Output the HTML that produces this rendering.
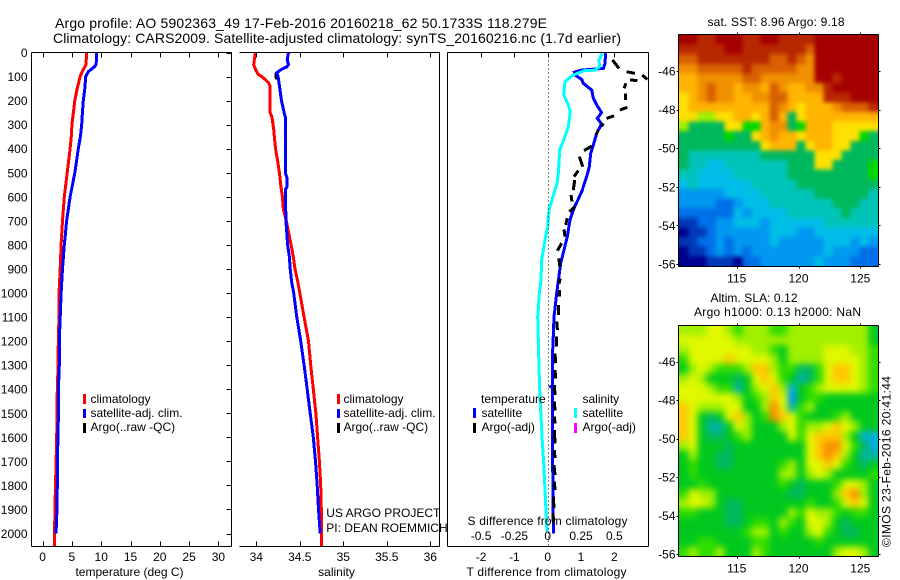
<!DOCTYPE html>
<html lang="en">
<head>
<meta charset="utf-8">
<title>Argo profile 5902363_49</title>
<style>
html,body{margin:0;padding:0;background:#fff;width:900px;height:580px;overflow:hidden}
svg{display:block}
text{font-family:"Liberation Sans",sans-serif;font-size:12px;fill:#000}
.t14{font-size:14px}
.ax{stroke:#000;stroke-width:1;shape-rendering:crispEdges;fill:none}
.ln{fill:none;stroke-width:3;shape-rendering:crispEdges;stroke-linejoin:miter}
</style>
</head>
<body>
<svg id="fig" xmlns="http://www.w3.org/2000/svg" width="900" height="580" viewBox="0 0 900 580">
  <defs>
    <filter id="sstSmooth" filterUnits="userSpaceOnUse" x="660" y="20" width="235" height="260" color-interpolation-filters="sRGB">
      <feGaussianBlur in="SourceGraphic" stdDeviation="2.2"/>
      <feComponentTransfer><feFuncA type="linear" slope="60"/></feComponentTransfer>
    </filter>
    <filter id="slaSmooth" filterUnits="userSpaceOnUse" x="660" y="310" width="235" height="260" color-interpolation-filters="sRGB">
      <feGaussianBlur in="SourceGraphic" stdDeviation="3.4"/>
      <feComponentTransfer><feFuncA type="linear" slope="60"/></feComponentTransfer>
    </filter>
    <clipPath id="sstClip"><rect x="679" y="35" width="199" height="231"/></clipPath>
    <clipPath id="slaClip"><rect x="679" y="326" width="199" height="230"/></clipPath>
  </defs>
  <rect width="900" height="580" fill="#fff"/>
  <text class="t14" x="55" y="28" textLength="492" lengthAdjust="spacing">Argo profile: AO 5902363_49 17-Feb-2016 20160218_62 50.1733S 118.279E</text>
  <text class="t14" x="53" y="43" textLength="568" lengthAdjust="spacing">Climatology: CARS2009. Satellite-adjusted climatology: synTS_20160216.nc (1.7d earlier)</text>

  <g clip-path="url(#sstClip)"><g id="sstCells" filter="url(#sstSmooth)"></g></g>
  <g clip-path="url(#slaClip)"><g id="slaCells" filter="url(#slaSmooth)"></g></g>
  <g id="plots"></g>
  <g id="axes"></g>

  <text x="129.5" y="576" text-anchor="middle">temperature (deg C)</text>
  <text x="336.5" y="576" text-anchor="middle">salinity</text>
  <text x="466.5" y="576" textLength="160">T difference from climatology</text>
  <text x="467.5" y="525" textLength="160">S difference from climatology</text>

  <g>
    <rect x="83" y="394" width="3" height="10" fill="#f00"/>
    <text x="90.5" y="403">climatology</text>
    <rect x="83" y="409" width="3" height="9" fill="#00f"/>
    <text x="90.5" y="417">satellite-adj. clim.</text>
    <rect x="83" y="423" width="3" height="10" fill="#000"/>
    <text x="90.5" y="431">Argo(..raw -QC)</text>
  </g>
  <g>
    <rect x="337" y="394" width="3" height="10" fill="#f00"/>
    <text x="343.5" y="403">climatology</text>
    <rect x="337" y="409" width="3" height="9" fill="#00f"/>
    <text x="343.5" y="417">satellite-adj. clim.</text>
    <rect x="337" y="423" width="3" height="10" fill="#000"/>
    <text x="343.5" y="431">Argo(..raw -QC)</text>
  </g>
  <g>
    <text x="481" y="403">temperature</text>
    <rect x="473" y="408" width="3" height="10" fill="#00f"/>
    <text x="481.5" y="417">satellite</text>
    <rect x="473" y="423" width="3" height="10" fill="#000"/>
    <text x="481.5" y="431">Argo(-adj)</text>
    <text x="582.5" y="403">salinity</text>
    <rect x="574" y="408" width="3" height="10" fill="#0ff"/>
    <text x="582.5" y="417">satellite</text>
    <rect x="574" y="423" width="3" height="10" fill="#f0f"/>
    <text x="582.5" y="431">Argo(-adj)</text>
  </g>
  <text x="326.3" y="517">US ARGO PROJECT</text>
  <text x="326.3" y="532">PI: DEAN ROEMMICH</text>

  <text x="707.5" y="26" textLength="137">sat. SST: 8.96 Argo: 9.18</text>
  <text x="710.5" y="302" textLength="87">Altim. SLA: 0.12</text>
  <text x="694" y="316" textLength="167">Argo h1000: 0.13 h2000: NaN</text>
  <text transform="translate(890.5 547) rotate(-90)" textLength="171">©IMOS 23-Feb-2016 20:41:44</text>
</svg>

<script>
/* ---------- profile data (depth in m) ---------- */
const climTempDepth = [0,50,73,100,150,200,250,300,350,400,500,600,700,800,900,1000,1100,1200,1300,1400,1500,1600,1700,1800,1900,2000,2054];
const climTemp = [7.5,7.4,6.9,6.4,5.9,5.5,5.25,5.0,4.9,4.7,4.2,3.7,3.4,3.15,3.0,2.8,2.8,2.68,2.65,2.5,2.45,2.4,2.3,2.2,2.1,2.05,2.0];
const satTempDepth = [0,50,60,80,100,150,200,250,300,350,400,450,500,550,600,650,700,750,800,850,900,1000,1100,1200,1300,1400,1500,1600,1700,1800,1900,1950,2000];
const satTemp = [9.2,9.15,8.8,7.8,7.35,7.2,6.95,6.8,6.67,6.45,6.1,5.8,5.5,5.1,4.7,4.4,4.1,3.9,3.7,3.55,3.4,3.15,3.0,2.85,2.85,2.7,2.7,2.63,2.5,2.5,2.45,2.35,2.3];
const climSalDepth = [0,50,70,90,105,125,140,250,270,320,380,420,450,500,550,600,650,700,800,850,900,950,1000,1100,1200,1300,1400,1500,1600,1700,1800,1900,2054];
const climSal = [33.99,33.97,33.99,34.02,34.08,34.14,34.16,34.16,34.18,34.2,34.215,34.23,34.245,34.265,34.28,34.3,34.31,34.345,34.4,34.425,34.445,34.475,34.5,34.55,34.6,34.625,34.655,34.685,34.705,34.725,34.74,34.747,34.75];
const satSalDepth = [0,30,50,60,70,85,100,150,200,250,270,500,520,560,570,700,750,800,850,900,950,1000,1100,1200,1300,1400,1500,1600,1700,1800,1900,2000];
const satSal = [34.37,34.355,34.37,34.35,34.29,34.235,34.25,34.27,34.29,34.32,34.335,34.335,34.35,34.35,34.335,34.34,34.35,34.36,34.38,34.39,34.405,34.43,34.465,34.51,34.55,34.585,34.62,34.655,34.68,34.7,34.715,34.735];
const argoSalDepth = [85,100,112];
const argoSal = [34.225,34.228,34.232];

const satTDiffDepth = [3,45,66,73,82,94,112,128,156,190,218,250,274,297,336,385,419,475,516,579,648,696,766,821,876,946,1001,1064,1098,1168,1237,1385,1389,1395,1431,1583,1722,1860,2000];
const satTDiff = [1.74,1.72,1.67,1.02,.8,.82,1.02,1.07,1.32,1.37,1.47,1.62,1.49,1.62,1.47,1.37,1.29,1.25,1.17,1.02,.79,.67,.59,.49,.39,.32,.27,.22,.19,.17,.15,.14,.09,.14,.14,.14,.15,.16,.17];
const satSDiffDepth = [3,31,59,73,76,94,121,177,218,246,308,364,405,502,544,599,655,724,780,863,946,1015,1064,1098,1209,1306,1403,1514,1625,1708,1819,1916,1992];
const satSDiff = [.41,.385,.39,.355,.27,.19,.13,.12,.155,.17,.155,.12,.09,.08,.07,.04,.01,0,-.02,-.045,-.05,-.065,-.07,-.075,-.07,-.065,-.06,-.05,-.04,-.03,-.02,-.012,-.005];
/* null entries separate the dashes of the Argo difference trace */
const argoTDiffDepth = [31,45,66,null,80,87,null,94,112,null,114,117,null,128,149,null,170,197,null,228,239,null,263,274,null,295,306,null,322,343,null,389,408,null,433,475,null,491,516,null,530,572,null,592,620,null,641,662,null,689,717,null,735,766,null,793,824,null,856,891,null,939,960,null,988,1015,null,1050,1091,null,1119,1154,null,1181,1223,null,1251,1292,null,1320,1355,null,1382,1424,null,1452,1489,null,1514,1542,null,1570,1625,null,1653,1687,null,1715,1757,null,1784,1819,null,1847,1895,null,1916,1951];
const argoTDiff = [1.95,2.02,2.14,null,2.37,2.62,null,2.84,2.99,null,2.47,2.69,null,2.35,2.29,null,2.33,2.33,null,2.39,2.17,null,1.99,1.77,null,1.67,1.62,null,1.52,1.45,null,1.32,1.09,null,.95,1.05,null,.92,.79,null,.81,.77,null,.7,.73,null,.82,.65,null,.59,.54,null,.49,.52,null,.42,.29,null,.33,.37,null,.37,.35,null,.35,.35,null,.32,.32,null,.27,.29,null,.27,.27,null,.22,.24,null,.22,.24,null,.2,.22,null,.2,.22,null,.2,.22,null,.2,.22,null,.2,.22,null,.19,.22,null,.2,.22,null,.17,.19,null,.16,.18];

/* ---------- tick labels ---------- */
const depthTicks = [0,100,200,300,400,500,600,700,800,900,1000,1100,1200,1300,1400,1500,1600,1700,1800,1900,2000];
const tempTicks = [0,5,10,15,20,25,30];
const salTicks = [34,34.5,35,35.5,36];
const salTickLabels = ["34","34.5","35","35.5","36"];
const tDiffTicks = [-2,-1,0,1,2];
const sDiffTicks = [-0.5,-0.25,0,0.25,0.5];
const sDiffTickLabels = ["-0.5","-0.25","0","0.25","0.5"];
const lonTicks = [115,120,125];
const latTicks = [-46,-48,-50,-52,-54,-56];

/* ---------- heatmap levels, north to south, west to east ---------- */
const sstLevels = [
[14,14,13,13,14,14,14,13,13,14,14,13,13,13,13,14,14,14,14,14,14,14],
[13,13,13,13,13,14,14,13,13,13,13,13,13,13,12,14,14,14,14,14,14,14],
[12,12,13,13,13,13,13,13,13,13,12,12,13,12,11,14,14,14,14,14,14,14],
[11,11,12,12,12,12,12,13,12,12,12,12,12,11,11,14,14,14,14,14,14,14],
[10,10,11,11,11,11,11,12,12,11,11,11,11,11,11,14,14,13,14,14,14,14],
[10,10,11,12,11,11,10,11,11,10,12,11,10,10,11,11,13,14,14,14,14,14],
[9,10,11,12,11,11,10,10,11,11,12,12,10,10,10,10,13,13,13,14,14,14],
[9,10,10,10,10,10,10,10,10,10,12,11,10,9,10,10,10,11,12,12,12,13],
[9,9,8,8,9,9,10,10,9,10,12,10,6,9,10,10,10,10,10,10,10,10],
[8,6,6,6,6,9,9,7,7,10,11,11,6,7,10,10,10,9,9,9,9,9],
[6,6,6,6,6,7,6,6,9,10,11,10,10,9,10,10,10,9,9,9,7,6],
[6,6,6,6,6,6,6,6,6,9,10,10,10,6,9,10,10,9,9,6,6,6],
[6,5,5,5,5,5,5,5,5,6,6,6,6,6,6,9,9,9,6,6,6,6],
[6,5,5,4,4,5,5,5,5,5,5,5,6,6,6,9,9,6,6,6,6,7],
[5,5,4,4,4,4,5,5,5,5,5,5,6,6,6,6,6,6,6,6,6,7],
[4,5,4,4,4,4,4,4,5,5,5,5,5,6,6,6,6,6,6,6,6,6],
[3,3,3,3,3,4,4,4,4,5,5,5,5,5,5,6,6,6,6,6,6,5],
[3,3,3,3,2,2,3,4,4,4,5,5,5,5,5,5,5,6,6,6,5,5],
[2,2,2,2,2,2,4,3,4,4,4,4,5,5,5,5,5,5,6,5,5,5],
[1,1,2,2,3,3,4,4,4,3,4,4,4,4,4,4,5,5,5,5,5,5],
[0,1,1,2,3,3,3,3,3,3,4,4,4,3,3,4,4,4,4,4,4,4],
[1,1,2,2,3,2,3,3,3,3,4,3,3,3,3,3,4,4,4,3,4,3],
[0,1,1,2,3,2,3,2,3,3,3,3,3,3,3,3,4,3,3,3,2,2],
[0,0,0,1,1,1,0,2,2,3,3,3,3,3,3,4,3,3,3,2,2,2]
];
const slaLevels = [
[8,8,8,9,9,8,7,8,8,8,7,7,8,8,8,8,8,8,8,8,8,6],
[9,9,9,9,9,9,8,8,8,8,8,8,8,8,8,8,8,8,8,8,8,6],
[8,9,9,9,9,9,9,9,8,8,7,6,8,8,8,8,9,9,9,8,8,7],
[7,9,9,9,9,10,9,9,9,9,8,6,8,8,8,8,9,9,9,9,8,7],
[6,8,9,8,7,7,7,8,10,10,8,7,7,5,5,7,9,10,10,9,8,7],
[8,9,8,6,6,6,5,6,9,10,9,7,6,4,5,7,9,10,10,9,8,7],
[9,9,9,8,7,7,4,6,8,9,10,8,3,6,7,8,9,9,9,9,8,7],
[9,9,9,9,9,9,8,6,7,8,10,9,2,6,7,7,6,6,6,6,6,6],
[10,9,8,8,8,9,9,6,6,8,11,9,4,7,8,6,6,6,6,6,6,6],
[10,9,6,5,6,9,10,8,6,7,11,10,9,7,6,6,6,7,8,6,6,6],
[10,9,6,4,4,6,9,8,6,6,6,8,9,7,8,8,9,10,9,8,6,6],
[10,9,6,5,5,6,7,8,6,6,6,6,9,7,9,10,10,10,8,6,3,3],
[8,9,6,6,6,5,6,6,6,6,6,6,6,6,9,10,11,11,9,7,5,3],
[6,8,6,6,5,5,6,6,6,6,6,6,6,6,9,10,11,10,8,6,4,4],
[6,7,6,6,5,5,6,6,6,6,6,7,8,6,9,9,10,9,7,6,5,6],
[6,7,6,6,6,6,6,6,6,6,6,8,8,6,8,9,8,6,6,6,6,7],
[6,6,7,6,6,6,6,6,6,6,6,7,6,5,6,6,6,7,9,9,8,6],
[7,9,8,8,6,6,6,6,6,6,6,6,5,5,6,6,6,8,10,11,8,6],
[8,9,9,8,6,5,5,6,6,6,6,6,6,6,7,6,6,7,9,10,9,6],
[7,7,6,6,6,5,5,6,6,6,6,6,8,7,9,8,8,7,6,7,7,6],
[6,6,6,6,6,5,5,6,7,7,6,8,7,6,9,9,8,6,5,6,6,6],
[6,6,6,6,6,6,6,7,8,8,6,7,6,6,8,9,7,6,5,5,6,6],
[6,6,7,7,6,6,6,6,7,7,6,6,6,6,6,7,6,6,6,6,6,6],
[7,8,7,7,8,6,6,6,8,7,6,6,6,6,6,6,6,8,9,9,8,6]
];

/* ---------- colour scales (style, not data) ---------- */
const sstPalette = ["#000090","#0038b8","#0070e8","#0098f0","#00bce8","#00c4b8","#00b85c","#00d800","#a0f000","#ffe000","#ffb400","#f09000","#d86000","#b82800","#a50000"];
const slaPalette = ["#000090","#0038b8","#0090ff","#00b0d8","#00b4a8","#00b860","#00c81e","#30dc00","#a0f000","#e0f800","#ffc800","#f89000","#d06000"];

/* ---------- axis functions ---------- */
const yDepth = d => 52.5 + 0.2405 * d;
const xTemp = t => 42.6 + 5.86 * t;
const xSal = s => 256.3 + 87 * (s - 34);
const xTDiff = t => 547.7 + 33.3 * t;
const xSDiff = s => 547.7 + 133.2 * s;
const mapX = lon => 736.7 + (lon - 115) * 12.36;
const sstLatY = lat => 71 + (-46 - lat) * 19.3;
const slaLatY = lat => 361.7 + (-46 - lat) * 19.25;
const LON_W = 110.36, LON_E = 126.4, LAT_N_SST = -44.13, LAT_S_SST = -56.1, LAT_N_SLA = -44.13, LAT_S_SLA = -56.1;

const SVGNS = "http://www.w3.org/2000/svg";
const axesLayer = document.getElementById("axes");
const plotLayer = document.getElementById("plots");

function makeLine(parent, x1, y1, x2, y2) {
  const el = document.createElementNS(SVGNS, "line");
  el.setAttribute("x1", x1); el.setAttribute("y1", y1);
  el.setAttribute("x2", x2); el.setAttribute("y2", y2);
  el.setAttribute("class", "ax");
  parent.appendChild(el);
  return el;
}
function makeText(parent, x, y, str, anchor) {
  const el = document.createElementNS(SVGNS, "text");
  el.setAttribute("x", x); el.setAttribute("y", y);
  if (anchor) el.setAttribute("text-anchor", anchor);
  el.textContent = str;
  parent.appendChild(el);
  return el;
}
function makeTrace(xs, ys, xFn, color, width) {
  /* one polyline per run of non-null values */
  const made = [];
  let pts = [];
  const flush = () => {
    if (pts.length > 1) {
      const el = document.createElementNS(SVGNS, "polyline");
      el.setAttribute("points", pts.join(" "));
      el.setAttribute("class", "ln");
      el.setAttribute("stroke", color);
      el.setAttribute("stroke-width", width);
      plotLayer.appendChild(el);
      made.push(el);
    }
    pts = [];
  };
  xs.forEach((v, i) => {
    if (v === null || ys[i] === null) { flush(); return; }
    pts.push(xFn(v).toFixed(1) + "," + yDepth(ys[i]).toFixed(1));
  });
  flush();
  return made;
}

/* ---------- panel frames ---------- */
const TOP = 52.5, BOT = 546.5;
const p1L = 31.5, p1R = 231.5, p2L = 239.5, p2R = 439.5, p3L = 447.5, p3R = 648.5;

[[p1L,TOP,p1R,TOP,"temperature-top-axis"],[p1L,BOT,p1R,BOT,"temperature-bottom-axis"],[p1L,TOP,p1L,BOT,"depth-axis-line"],[p1R,TOP,p1R,BOT,"temperature-right-axis"],
 [p2L,TOP,p2R,TOP,"salinity-top-axis"],[p2L,BOT,p2R,BOT,"salinity-bottom-axis"],[p2R,TOP,p2R,BOT,"salinity-right-axis"],
 [p3L,TOP,p3R,TOP,"difference-top-axis"],[p3L,BOT,p3R,BOT,"difference-bottom-axis"],[p3L,TOP,p3L,BOT,"difference-left-axis"],[p3R,TOP,p3R,BOT,"difference-right-axis"]
].forEach(f => {
  const el = makeLine(axesLayer, f[0], f[1], f[2], f[3]);
  
  
});

/* depth ticks */
depthTicks.forEach(d => {
  const y = Math.round(yDepth(d)) + 0.5;
  const tick = makeLine(axesLayer, p1R - 5, y, p1R, y);
  
  
  const lab = makeText(axesLayer, 27.5, yDepth(d) + 4.5, String(d), "end");
  
  
});

/* temperature ticks */
tempTicks.forEach(t => {
  const x = Math.round(xTemp(t)) + 0.5;
  const a = makeLine(axesLayer, x, TOP, x, TOP + 5);
  
  
  const b = makeLine(axesLayer, x, BOT - 5, x, BOT);
  
  
  const lab = makeText(axesLayer, xTemp(t), 561, String(t), "middle");
  
  
});

/* salinity ticks */
salTicks.forEach((s, i) => {
  const x = Math.round(xSal(s)) + 0.5;
  const a = makeLine(axesLayer, x, TOP, x, TOP + 5);
  
  
  const b = makeLine(axesLayer, x, BOT - 5, x, BOT);
  
  
  const lab = makeText(axesLayer, xSal(s), 561, salTickLabels[i], "middle");
  
  
});

/* difference ticks */
tDiffTicks.forEach(t => {
  const x = Math.round(xTDiff(t)) + 0.5;
  const a = makeLine(axesLayer, x, TOP, x, TOP + 5);
  
  
  const lab = makeText(axesLayer, xTDiff(t), 561, String(t), "middle");
  
  
});
sDiffTicks.forEach((s, i) => {
  const lab = makeText(axesLayer, xSDiff(s), 540, sDiffTickLabels[i], "middle");
  
  
});

/* zero line */
const zero = makeLine(axesLayer, Math.round(xTDiff(0)) + 0.5, TOP, Math.round(xTDiff(0)) + 0.5, BOT);
zero.setAttribute("stroke-dasharray", "1 3");



/* ---------- profile traces ---------- */
makeTrace(climTemp, climTempDepth, xTemp, "#f00", 3).forEach(el => {
  
  
});
makeTrace(satTemp, satTempDepth, xTemp, "#00f", 3).forEach(el => {
  
  
});
makeTrace(climSal, climSalDepth, xSal, "#f00", 3).forEach(el => {
  
  
});
makeTrace(argoSal, argoSalDepth, xSal, "#000", 1).forEach(el => {
  
  
});
makeTrace(satSal, satSalDepth, xSal, "#00f", 3).forEach(el => {
  
  
});
makeTrace(satTDiff, satTDiffDepth, xTDiff, "#00f", 3).forEach(el => {
  
  
});
makeTrace(satSDiff, satSDiffDepth, xSDiff, "#0ff", 3).forEach(el => {
  
  
});
makeTrace(argoTDiff, argoTDiffDepth, xTDiff, "#000", 3).forEach(el => {
  
  
});

/* ---------- heatmaps ---------- */
function drawMap(group, levels, palette, yLat, latN, latS, cellName) {
  const rows = levels.length, cols = levels[0].length;
  const dLon = (LON_E - LON_W) / cols, dLat = (latN - latS) / rows;
  levels.forEach((row, r) => {
    row.forEach((v, c) => {
      const x0 = mapX(LON_W + c * dLon), x1 = mapX(LON_W + (c + 1) * dLon);
      const y0 = yLat(latN - r * dLat), y1 = yLat(latN - (r + 1) * dLat);
      const cell = document.createElementNS(SVGNS, "rect");
      cell.setAttribute("x", x0.toFixed(2));
      cell.setAttribute("y", y0.toFixed(2));
      cell.setAttribute("width", (x1 - x0 + 0.6).toFixed(2));
      cell.setAttribute("height", (y1 - y0 + 0.6).toFixed(2));
      cell.setAttribute("fill", palette[v]);
      cell.setAttribute("shape-rendering", "crispEdges");
      
      
      group.appendChild(cell);
    });
  });
}
function drawMapAxes(yLat, latN, latS, prefix) {
  const L = Math.round(mapX(LON_W)) - 0.5, R = Math.round(mapX(LON_E)) + 0.5;
  const T = Math.round(yLat(latN)) - 0.5, B = Math.round(yLat(latS)) + 0.5;
  [[L,T,R,T],[L,B,R,B],[L,T,L,B],[R,T,R,B]].forEach(f => {
    const el = makeLine(axesLayer, f[0], f[1], f[2], f[3]);
    
    
  });
  lonTicks.forEach(lon => {
    const x = Math.round(mapX(lon)) + 0.5;
    const a = makeLine(axesLayer, x, T - 2, x, T);
    
    
    const b = makeLine(axesLayer, x, B, x, B + 2);
    
    
    const lab = makeText(axesLayer, mapX(lon), B + 16, String(lon), "middle");
    
    
  });
  latTicks.forEach(lat => {
    const y = Math.round(yLat(lat)) + 0.5;
    const a = makeLine(axesLayer, L - 2, y, L, y);
    
    
    const b = makeLine(axesLayer, R, y, R + 2, y);
    
    
    const lab = makeText(axesLayer, L - 3, yLat(lat) + 4.5, String(lat), "end");
    
    
  });
}
drawMap(document.getElementById("sstCells"), sstLevels, sstPalette, sstLatY, LAT_N_SST, LAT_S_SST, "sst-heatmap-cell");
drawMap(document.getElementById("slaCells"), slaLevels, slaPalette, slaLatY, LAT_N_SLA, LAT_S_SLA, "sla-heatmap-cell");
drawMapAxes(sstLatY, LAT_N_SST, LAT_S_SST, "sst");
drawMapAxes(slaLatY, LAT_N_SLA, LAT_S_SLA, "sla");
</script>
</body>
</html>
